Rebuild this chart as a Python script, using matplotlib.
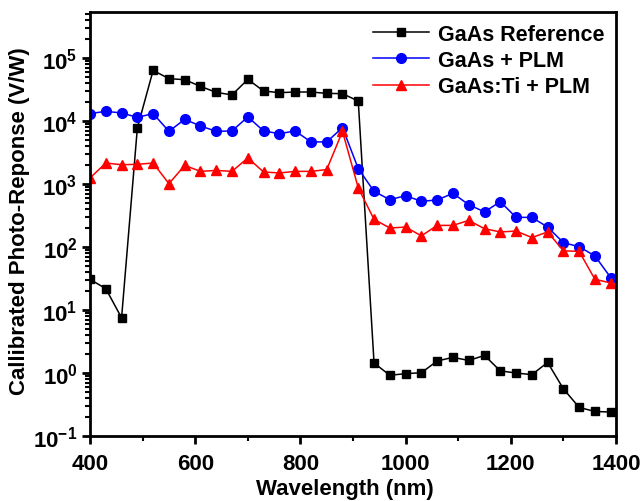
import matplotlib
matplotlib.use("Agg")
import matplotlib.pyplot as plt
from matplotlib.ticker import FixedLocator, LogFormatterMathtext, NullFormatter, MultipleLocator
import numpy as np

plt.rcParams['font.family'] = ['Liberation Sans', 'DejaVu Sans']
plt.rcParams['font.weight'] = 'bold'
plt.rcParams['mathtext.default'] = 'bf'

wavelength = list(range(400, 1391, 30))

gaas_ref = [30.6, 21.8, 7.5, 7750, 63500, 46900, 45200, 35400, 28400, 25900,
            45700, 29900, 28100, 28800, 28800, 27400, 27100, 20700, 1.44, 0.92,
            0.975, 1.01, 1.55, 1.77, 1.58, 1.9, 1.08, 1.0, 0.94, 1.47,
            0.56, 0.284, 0.245, 0.24]

gaas_plm = [13100, 14200, 13400, 11400, 13100, 6840, 10600, 8330, 6840, 6940,
            11600, 6940, 6280, 6940, 4650, 4650, 7830, 1750, 764, 563,
            652, 530, 557, 710, 469, 360, 524, 295, 295, 207,
            117, 101, 72, 32.6]

gaasti_plm = [1245, 2150, 2020, 2050, 2150, 1010, 1970, 1585, 1640, 1585,
              2590, 1550, 1495, 1585, 1585, 1690, 6840, 865, 274, 200,
              207, 150, 220, 220, 264, 195, 173, 179, 141, 173,
              87, 85, 30.6, 26.9]

labels = ["GaAs Reference", "GaAs + PLM", "GaAs:Ti + PLM"]
y_major = [1e-1, 1e0, 1e1, 1e2, 1e3, 1e4, 1e5]

fig = plt.figure(figsize=(6.43, 5.02), dpi=100)
ax = fig.add_axes([0.14, 0.1295, 0.818, 0.845])

ax.plot(wavelength, gaas_ref, color='black', marker='s', markersize=6, lw=1.1, label=labels[0])
ax.plot(wavelength, gaas_plm, color='blue', marker='o', markersize=7, lw=1.1, label=labels[1])
ax.plot(wavelength, gaasti_plm, color='red', marker='^', markersize=7.5, lw=1.1, label=labels[2])

ax.set_yscale('log')
ax.set_xlim(400, 1400)
ax.set_ylim(0.1, 5.4e5)
ax.xaxis.set_major_locator(MultipleLocator(200))
ax.xaxis.set_minor_locator(MultipleLocator(100))
ax.yaxis.set_major_locator(FixedLocator(y_major))
ax.yaxis.set_major_formatter(LogFormatterMathtext())
minor = [m * d for d in [1e-1, 1e0, 1e1, 1e2, 1e3, 1e4, 1e5] for m in range(2, 10) if m * d <= 5.4e5]
ax.yaxis.set_minor_locator(FixedLocator(minor))
ax.yaxis.set_minor_formatter(NullFormatter())

for s in ax.spines.values():
    s.set_linewidth(2)
ax.tick_params(which='major', direction='out', length=6, width=2, labelsize=16, top=False, right=False)
ax.tick_params(axis='x', which='major', pad=6)
ax.tick_params(axis='y', which='major', pad=3)
ax.tick_params(which='minor', direction='out', length=3.5, width=1.5, top=False, right=False)

ax.set_xlabel("Wavelength (nm)", fontsize=16, fontweight='bold')
ax.set_ylabel("Callibrated Photo-Reponse (V/W)", fontsize=16, fontweight='bold')
ax.xaxis.set_label_coords(0.485, -0.098)
ax.yaxis.set_label_coords(-0.114, 0.509)

leg = ax.legend(loc='upper right', frameon=False, fontsize=15.5, handlelength=2.6,
                borderaxespad=0.15, labelspacing=0.25, handletextpad=0.4)

fig.savefig("out.png", dpi=100)
